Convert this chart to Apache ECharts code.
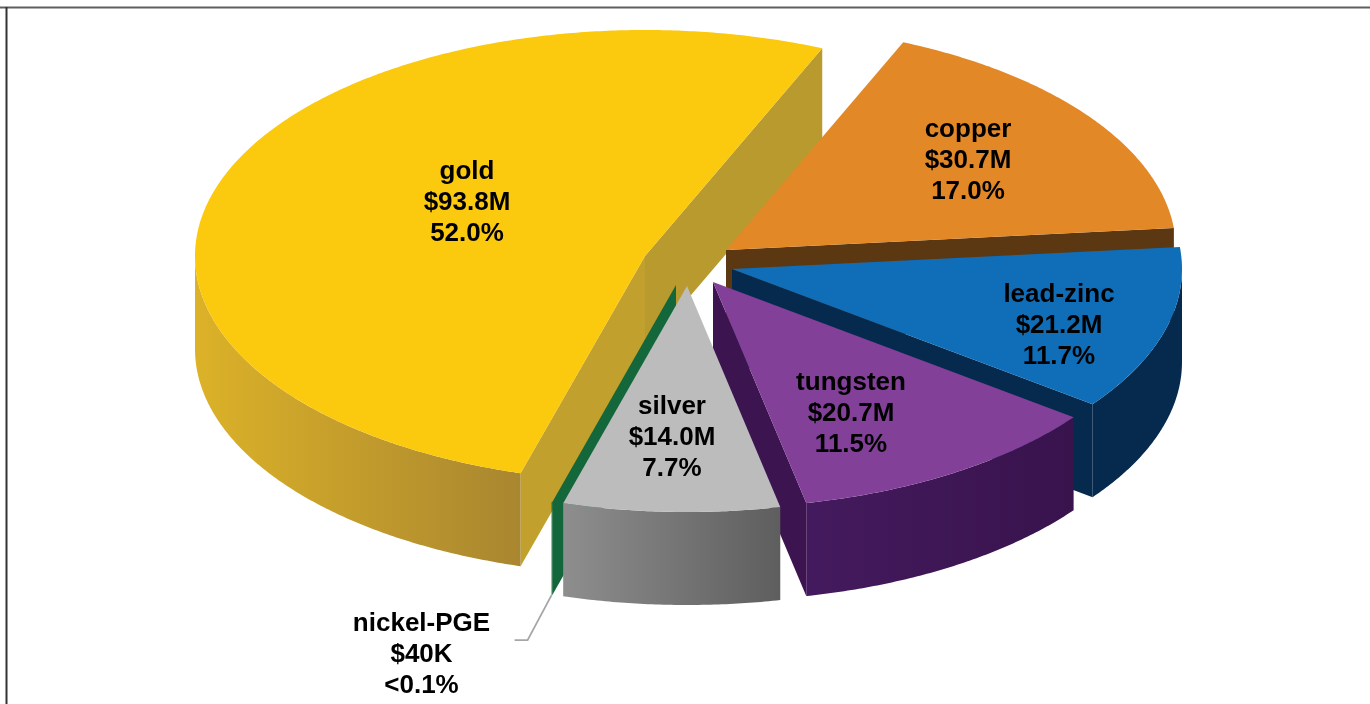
<!DOCTYPE html>
<html>
<head>
<meta charset="utf-8">
<title>Mineral production by commodity</title>
<script src="https://cdn.jsdelivr.net/npm/echarts@6/dist/echarts.min.js"></script>
<style>
  html, body { margin: 0; padding: 0; background: #fff; }
  #chart { width: 1370px; height: 704px; }
</style>
</head>
<body>
<div id="chart"></div>
<script>
// Commodities clockwise from the start of the gold slice; values in $M.
const categories = ['gold', 'copper', 'lead-zinc', 'tungsten', 'silver', 'nickel-PGE'];
const values = [93.8, 30.7, 21.2, 20.7, 14.0, 0.04];
const amountLabels = ['$93.8M', '$30.7M', '$21.2M', '$20.7M', '$14.0M', '$40K'];
const shareLabels = ['52.0%', '17.0%', '11.7%', '11.5%', '7.7%', '<0.1%'];

// Colours per slice: top face, outer wall (left, right), cut faces (start, end).
const topColors = ['#fbc90d', '#e38826', '#106eb8', '#834099', '#bcbcbc', '#14673a'];
const wallLeft = ['#dcb228', '#5c3812', '#052a4e', '#441a5e', '#8e8e8e', '#14673a'];
const wallRight = ['#a98630', '#5c3812', '#052a4e', '#38134c', '#5e5e5e', '#14673a'];
const cutStart = ['#c1a02d', '#5c3812', '#052a4e', '#3c1450', '#6a6a6a', '#14673a'];
const cutEnd = ['#b99a2f', '#5c3812', '#052a4e', '#3c1450', '#6a6a6a', '#14673a'];

// Pie projection: ellipse radii, extrusion depth and the exploded apex of each slice.
const RX = 450;
const RY = 226;
const DEPTH = 93;
const GOLD_START_DEG = -163.95;
const apexX = [645, 726, 732, 713, 687, 676];
const apexY = [256, 250, 269, 282, 286, 285];
// Back-to-front paint order, and label centres relative to each apex.
const paintOrder = [0, 1, 2, 3, 5, 4];
const labelDX = [-178, 242, 327, 138, -15, -254.5];
const labelDY = [-53, -89, 57, 132, 152, 370];

const total = values.reduce((a, b) => a + b, 0);
const startDeg = [];
values.reduce((acc, v, i) => {
  startDeg[i] = acc;
  return acc + (v / total) * 360;
}, GOLD_START_DEG);

const RAD = Math.PI / 180;
// Screen point on a slice's rim; angle runs clockwise from twelve o'clock.
function rim(i, deg, drop) {
  return [
    apexX[i] + RX * Math.sin(deg * RAD),
    apexY[i] - RY * Math.cos(deg * RAD) + (drop || 0)
  ];
}
function arc(i, from, to, drop) {
  const pts = [];
  const steps = Math.max(2, Math.ceil(Math.abs(to - from) / 0.5));
  for (let s = 0; s <= steps; s++) {
    pts.push(rim(i, from + ((to - from) * s) / steps, drop));
  }
  return pts;
}
function poly(points, fill, z2) {
  return {
    type: 'polygon',
    z2: z2,
    shape: { points: points },
    style: { fill: fill, stroke: null }
  };
}

function renderSlice(params, api) {
  const i = params.dataIndex;
  const sweep = (api.value(1) / total) * 360;
  const t0 = startDeg[i];
  const t1 = t0 + sweep;
  const base = paintOrder[i] * 10;
  const apex = [apexX[i], apexY[i]];
  const apexLow = [apexX[i], apexY[i] + DEPTH];
  const children = [];

  // Cut faces are only seen when they turn towards the viewer.
  if (Math.sin(t0 * RAD) < 0) {
    const p = rim(i, t0);
    children.push(poly([apex, p, rim(i, t0, DEPTH), apexLow], cutStart[i], base + 1));
  }
  if (Math.sin(t1 * RAD) > 0) {
    const p = rim(i, t1);
    children.push(poly([apex, p, rim(i, t1, DEPTH), apexLow], cutEnd[i], base + 2));
  }

  // Outer wall: the part of the rim on the near half of the ellipse.
  const turns = [t0, t1].map((d) => ((d % 360) + 360) % 360);
  const wallFrom = Math.max(turns[0], 90);
  const wallTo = Math.min(turns[0] + sweep, 270);
  if (wallTo > wallFrom) {
    const upper = arc(i, wallFrom, wallTo, 0);
    const lower = arc(i, wallTo, wallFrom, DEPTH);
    children.push(poly(upper.concat(lower), {
      type: 'linear', x: 0, y: 0, x2: 1, y2: 0,
      colorStops: [
        { offset: 0, color: wallLeft[i] },
        { offset: 1, color: wallRight[i] }
      ]
    }, base + 3));
  }

  // Top face.
  if (sweep > 1) {
    children.push(poly([apex].concat(arc(i, t0, t1, 0)), topColors[i], base + 4));
  }

  // The smallest slice takes its label outside, with a leader line.
  if (sweep <= 1) {
    const foot = rim(i, t1, DEPTH);
    children.push({
      type: 'polyline',
      z2: 200,
      shape: { points: [foot, [foot[0] - 24, foot[1] + 45], [foot[0] - 37, foot[1] + 45]] },
      style: { stroke: '#a6a6a6', lineWidth: 1.8, fill: null }
    });
  }

  children.push({
    type: 'text',
    z2: 300,
    style: {
      text: [categories[i], amountLabels[i], shareLabels[i]].join('\n'),
      x: apexX[i] + labelDX[i],
      y: apexY[i] + labelDY[i],
      align: 'center',
      verticalAlign: 'middle',
      fill: '#000',
      font: 'bold 26px "Liberation Sans", Arial, sans-serif',
      lineHeight: 31
    }
  });

  return { type: 'group', children: children };
}

const chart = echarts.init(document.getElementById('chart'), null, { renderer: 'canvas' });
chart.setOption({
  animation: false,
  backgroundColor: '#fff',
  graphic: [
    {
      type: 'line', silent: true,
      shape: { x1: 0, y1: 7.5, x2: 1370, y2: 7.5 },
      style: { stroke: '#5f5f5f', lineWidth: 2 }
    },
    {
      type: 'line', silent: true,
      shape: { x1: 6.5, y1: 7, x2: 6.5, y2: 704 },
      style: { stroke: '#333333', lineWidth: 2 }
    }
  ],
  series: [{
    type: 'custom',
    coordinateSystem: 'none',
    silent: true,
    encode: { value: 1 },
    data: categories.map((name, i) => ({ name: name, value: [i, values[i]] })),
    renderItem: renderSlice
  }]
});
</script>
</body>
</html>
